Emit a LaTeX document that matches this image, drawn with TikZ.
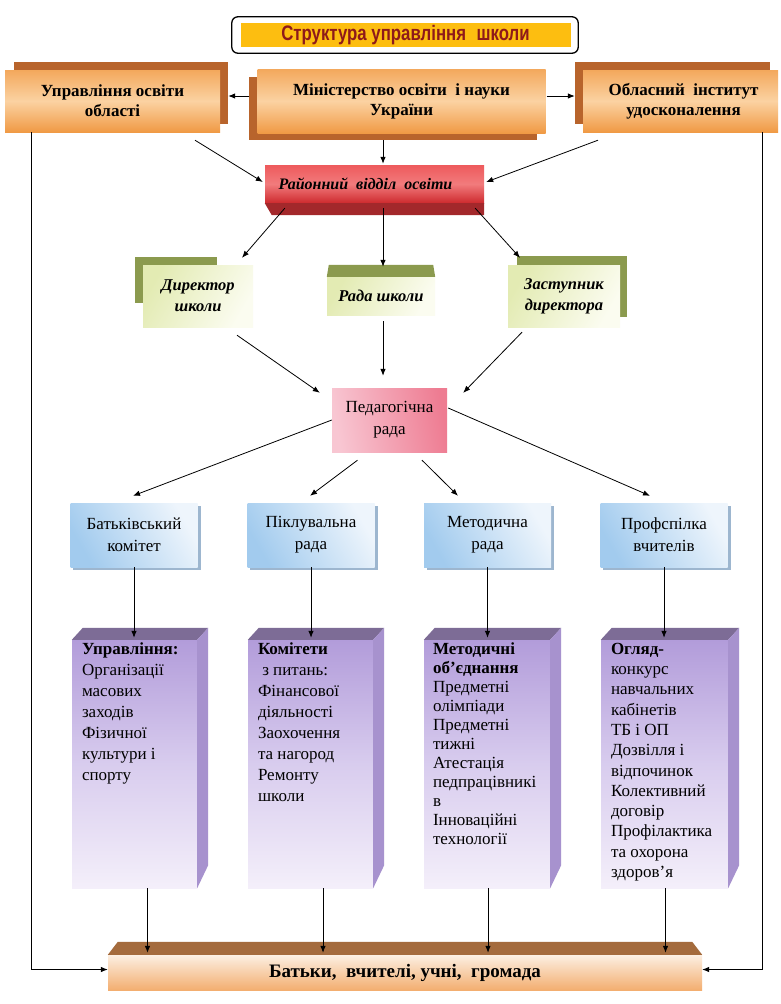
\documentclass[tikz,border=0pt]{standalone}
\usepackage{fontspec}
\setmainfont{Liberation Serif}
\newfontfamily\titlefont{Liberation Sans}
\usetikzlibrary{calc,arrows.meta}
\pgfdeclarelayer{back}
\pgfsetlayers{back,main}
\definecolor{titlered}{HTML}{8E1A1A}
\definecolor{titleyel}{HTML}{FDBE10}
\definecolor{orTop}{HTML}{F3A85C}
\definecolor{orMid}{HTML}{FBD2A2}
\definecolor{orBot}{HTML}{F09A45}
\definecolor{orShadow}{HTML}{B8642C}
\definecolor{redTop}{HTML}{EE5A5C}
\definecolor{redBot}{HTML}{CE2A2E}
\definecolor{redDark}{HTML}{A3282B}
\definecolor{grLight}{HTML}{E3EBB3}
\definecolor{grWhite}{HTML}{FBFCF0}
\definecolor{grShadow}{HTML}{8B9A4E}
\definecolor{pkLeft}{HTML}{F8C6D2}
\definecolor{pkRight}{HTML}{EE7C92}
\definecolor{blDark}{HTML}{A2CBEE}
\definecolor{blLight}{HTML}{EEF5FC}
\definecolor{blShadow}{HTML}{9DB6CF}
\definecolor{puTop}{HTML}{B29CDA}
\definecolor{puMid}{HTML}{D8CCEE}
\definecolor{puBot}{HTML}{F4EFFA}
\definecolor{puTopFace}{HTML}{7D6C96}
\definecolor{puSide}{HTML}{A792CE}
\definecolor{barTopC}{HTML}{FCEFE2}
\definecolor{barBotC}{HTML}{F3AE70}
\definecolor{barFace}{HTML}{A46B3D}
\tikzset{
  arr/.style={-{Latex[length=7pt,width=5.5pt]}, line width=0.8pt, draw=black},
  box/.style={inner sep=0pt, align=center, text=black},
  orangebox/.style={box, top color=orTop, bottom color=orBot, middle color=orMid,
    font=\bfseries\fontsize{17}{20}\selectfont},
  redbox/.style={box, top color=redTop, bottom color=redBot, middle color=redTop!80!white,
    font=\bfseries\itshape\fontsize{16}{20}\selectfont},
  greenbox/.style={box, left color=grLight, right color=grWhite, shading angle=60,
    font=\bfseries\itshape\fontsize{16.5}{21}\selectfont},
  pinkbox/.style={box, left color=pkLeft, right color=pkRight, shading angle=100,
    font=\fontsize{17}{22}\selectfont},
  bluebox/.style={box, left color=blDark, right color=blLight, shading angle=120,
    minimum width=127pt, minimum height=64pt, font=\fontsize{17}{22}\selectfont},
  purplebox/.style={inner sep=0pt, top color=puTop, bottom color=puBot, middle color=puMid,
    minimum height=248pt},
  ptext/.style={inner sep=0pt, align=left, anchor=north west, text=black,
    font=\fontsize{17}{21}\selectfont},
  barbox/.style={box, top color=barTopC, bottom color=barBotC,
    font=\bfseries\fontsize{19}{20}\selectfont},
}
\begin{document}
\begin{tikzpicture}[x=1pt,y=-1pt]
\useasboundingbox (0,0) rectangle (781,1004);
\begin{pgfonlayer}{back}
  \fill[white] (0,0) rectangle (781,1004);
\end{pgfonlayer}

% Title
\node[inner sep=0pt, fill=titleyel, minimum width=330pt, minimum height=24pt,
  text=titlered, font=\titlefont\bfseries\fontsize{21}{21}\selectfont] (title) at (405.5,35)
  {\scalebox{0.8}[1]{Структура управління\hspace{0.35em} школи}};
\draw[line width=1.3pt, rounded corners=6pt]
  ($(title.north west)+(-8.5,-6)$) rectangle ($(title.south east)+(7.5,6)$);

% Top row
\node[orangebox, minimum width=215pt, minimum height=62pt] (obl) at (112.5,101)
  {Управління освіти\\області};
\node[orangebox, minimum width=288pt, minimum height=64pt] (min) at (401.5,101)
  {Міністерство освіти\ \ і науки\\України};
\node[orangebox, minimum width=195pt, minimum height=62pt] (inst) at (680.5,101)
  {\hspace*{6pt}Обласний\ \ інститут\\\hspace*{6pt}удосконалення};
\begin{pgfonlayer}{back}
  \fill[orShadow] ($(obl.south west)+(9,-8)$) rectangle ($(obl.north east)+(8,-8)$);
  \fill[orShadow] ($(min.south west)+(-8,7)$) rectangle ($(min.north east)+(-9,8)$);
  \fill[orShadow] ($(inst.south west)+(-8,-8)$) rectangle ($(inst.north east)+(-8,-8)$);
\end{pgfonlayer}

% District
\node[redbox, minimum width=219pt, minimum height=38pt] (dist) at (374.5,184)
  {Районний\ \ відділ\ \ освіти\hspace*{18pt}};
\fill[redDark] (dist.south west) -- (dist.south east) -- ($(dist.south east)+(0,12)$)
  -- ($(dist.south west)+(7,12)$) -- cycle;

% Director / council / deputy
\node[greenbox, minimum width=110pt, minimum height=62pt] (dir) at (198,296)
  {Директор\\школи};
\node[greenbox, minimum width=108pt, minimum height=38pt] (rada) at (381,296)
  {Рада школи};
\node[greenbox, minimum width=112pt, minimum height=62pt] (zast) at (564,296)
  {Заступник\\директора};
\fill[grShadow] ($(rada.north west)+(2,-12)$) -- ($(rada.north east)+(-2,-12)$)
  -- (rada.north east) -- (rada.north west) -- cycle;
\begin{pgfonlayer}{back}
  \fill[grShadow] ($(dir.north west)+(-8,-8)$) rectangle ($(dir.north west)+(74,38)$);
  \fill[grShadow] ($(zast.north west)+(9,-9)$) rectangle ($(zast.south east)+(7,-10)$);
\end{pgfonlayer}

% Pedagogical council
\node[pinkbox, minimum width=115pt, minimum height=64pt] (ped) at (389.5,420)
  {Педагогічна\\рада};

% Blue row
\node[bluebox] (batk) at (134,535) {Батьківський\\комітет};
\node[bluebox] (pikl) at (311,535) {Піклувальна\\рада};
\node[bluebox] (metod) at (487.5,535) {Методична\\рада};
\node[bluebox] (prof) at (664,535) {Профспілка\\вчителів};
\begin{pgfonlayer}{back}
  \foreach \n in {batk,pikl,metod,prof}
    \fill[blShadow] ($(\n.north west)+(3,3)$) rectangle ($(\n.south east)+(3,3)$);
\end{pgfonlayer}

% Purple boxes
\node[purplebox, minimum width=125pt] (p1) at (134.5,764) {};
\node[purplebox, minimum width=125pt] (p2) at (310.5,764) {};
\node[purplebox, minimum width=126pt] (p3) at (487,764) {};
\node[purplebox, minimum width=127pt] (p4) at (664.5,764) {};
\foreach \n in {p1,p2,p3,p4} {
  \fill[puTopFace] (\n.north west) -- (\n.north east) -- ($(\n.north east)+(11,-12)$)
    -- ($(\n.north west)+(11,-12)$) -- cycle;
  \fill[puSide] (\n.north east) -- ($(\n.north east)+(11,-12)$)
    -- ($(\n.south east)+(11,-23)$) -- (\n.south east) -- cycle;
}
\node[ptext] (t1) at ($(p1.north west)+(10,3)$)
  {\textbf{Управління:}\\Організації\\масових\\заходів\\Фізичної\\культури і\\спорту};
\node[ptext] (t2) at ($(p2.north west)+(10,3)$)
  {\textbf{Комітети}\\\ з питань:\\Фінансової\\діяльності\\Заохочення\\та нагород\\Ремонту\\школи};
\node[ptext, font=\fontsize{17}{19}\selectfont] (t3) at ($(p3.north west)+(9,3)$)
  {\textbf{Методичні}\\\textbf{об’єднання}\\Предметні\\олімпіади\\Предметні\\тижні\\Атестація\\педпрацівникі\\в\\Інноваційні\\технології};
\node[ptext, font=\fontsize{17}{20.3}\selectfont] (t4) at ($(p4.north west)+(10,3)$)
  {\textbf{Огляд-}\\конкурс\\навчальних\\кабінетів\\ТБ і ОП\\Дозвілля і\\відпочинок\\Колективний\\договір\\Профілактика\\та охорона\\здоров’я};

% Bottom bar
\node[barbox, minimum width=594pt, minimum height=35pt] (bar) at (405,972.5)
  {Батьки,\ \ вчителі, учні,\ \ громада};
\fill[barFace] (bar.north west) -- (bar.north east) -- ($(bar.north east)+(-10,-13)$)
  -- ($(bar.north west)+(10,-13)$) -- cycle;

% Connectors
\draw[arr] ($(min.west)+(-8,-5)$) -- ($(obl.east)+(8,-5)$);
\draw[arr] ($(min.east)+(1,-5)$) -- ($(inst.west)+(-8,-5)$);
\draw[arr] ($(min.south)+(-18.5,7)$) -- ($(dist.north)+(8.5,-1)$);
\draw[arr] ($(obl.south)+(82.5,8)$) -- ($(dist.west)+(-2,-2)$);
\draw[arr] ($(inst.south)+(-82.5,8)$) -- ($(dist.east)+(2,-2)$);
\draw[arr] ($(dist.south west)+(20,5)$) -- ($(dir.north)+(44,-7)$);
\draw[arr] ($(dist.south)+(8.5,5)$) -- ($(rada.north)+(2,-10)$);
\draw[arr] ($(dist.south east)+(-9,5)$) -- ($(zast.north)+(-44,-7)$);
\draw[arr] ($(dir.south)+(39,8)$) -- ($(ped.north west)+(-12,5)$);
\draw[arr] ($(rada.south)+(2,6)$) -- ($(ped.north)+(-6.5,-12)$);
\draw[arr] ($(zast.south)+(-42,5)$) -- ($(ped.north east)+(16,5)$);
\draw[arr] (ped.west) -- ($(batk.north)+(-1,-7)$);
\draw[arr] ($(ped.south)+(-32,8)$) -- ($(pikl.north)+(-1,-7)$);
\draw[arr] ($(ped.south)+(32.5,8)$) -- ($(metod.north)+(-29.5,-7)$);
\draw[arr] ($(ped.east)+(1,-12)$) -- ($(prof.north)+(-14,-7)$);
\foreach \a/\b in {batk/p1,pikl/p2,metod/p3,prof/p4}
  \draw[arr] (\a.south) -- ($(\a.south |- \b.north)+(0,-2)$);
\coordinate (d1) at ($(p1.south)+(13,0)$);
\coordinate (d2) at ($(p2.south)+(12.5,0)$);
\coordinate (d3) at ($(p3.south)+(1,0)$);
\coordinate (d4) at ($(p4.south)+(1,0)$);
\foreach \d in {d1,d2,d3,d4}
  \draw[arr] (\d) -- ($(\d |- bar.north)+(0,-2)$);
\draw[arr] ($(obl.south west)+(27,0)$) |- ($(bar.west)+(0,-3)$);
\draw[arr] ($(inst.south east)+(-16,0)$) |- ($(bar.east)+(0,-3)$);
\end{tikzpicture}
\end{document}
